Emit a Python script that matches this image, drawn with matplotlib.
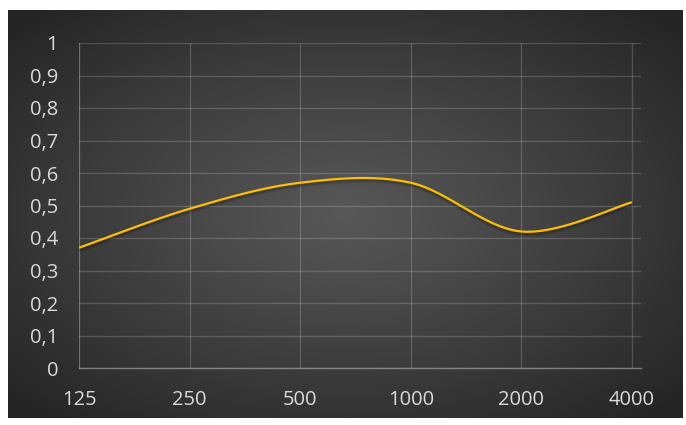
import numpy as np
import matplotlib
matplotlib.use("Agg")
import matplotlib.pyplot as plt

# Absorption-like curve per octave band
frequencies = ["125", "250", "500", "1000", "2000", "4000"]
values = [0.37, 0.49, 0.57, 0.57, 0.42, 0.51]
y_ticks = [0, 0.1, 0.2, 0.3, 0.4, 0.5, 0.6, 0.7, 0.8, 0.9, 1.0]
y_tick_labels = ["0", "0,1", "0,2", "0,3", "0,4", "0,5", "0,6", "0,7", "0,8", "0,9", "1"]

W, H = 686, 425
fig = plt.figure(figsize=(W / 100, H / 100), dpi=100)
fig.patch.set_facecolor("white")

# Dark chart area with a radial gradient (light centre, dark edges)
bg = fig.add_axes([8 / W, 1 - 418 / H, 675 / W, 408 / H])
bg.set_axis_off()
gx, gy = np.meshgrid(np.linspace(-1, 1, 400), np.linspace(-1, 1, 260))
r = np.sqrt(gx ** 2 + gy ** 2) / np.sqrt(2)
light = np.array([0x57, 0x57, 0x57]) / 255
dark = np.array([0x25, 0x25, 0x25]) / 255
t = np.clip(r / 0.95, 0, 1)[..., None] ** 1.1
img = light * (1 - t) + dark * t
bg.imshow(img, extent=[0, 1, 0, 1], aspect="auto", interpolation="bilinear")
bg.set_xlim(0, 1)
bg.set_ylim(0, 1)

ax = fig.add_axes([79 / W, (H - 368) / H, (641 - 79) / W, (368 - 43) / H])
ax.set_facecolor("none")


def smooth_curve(xs, ys, n=60):
    """Bezier smoothing through the points (Catmull-Rom style control points)."""
    xs = np.asarray(xs, float)
    ys = np.asarray(ys, float)
    pts = np.column_stack([xs, ys])
    out = []
    for i in range(len(pts) - 1):
        p0 = pts[i - 1] if i > 0 else pts[i]
        p1 = pts[i]
        p2 = pts[i + 1]
        p3 = pts[i + 2] if i + 2 < len(pts) else pts[i + 1]
        c1 = p1 + (p2 - p0) / 6
        c2 = p2 - (p3 - p1) / 6
        s = np.linspace(0, 1, n)[:, None]
        seg = ((1 - s) ** 3) * p1 + 3 * ((1 - s) ** 2) * s * c1 + 3 * (1 - s) * s ** 2 * c2 + s ** 3 * p2
        out.append(seg if i == 0 else seg[1:])
    out = np.vstack(out)
    return out[:, 0], out[:, 1]


x = np.arange(len(frequencies))
sx, sy = smooth_curve(x, values)

# soft shadow under the line
for off, a in [(0.009, 0.06), (0.006, 0.08), (0.004, 0.08)]:
    ax.plot(sx, sy - off, color="black", lw=3.0, alpha=a, solid_capstyle="round", zorder=2)
ax.plot(sx, sy, color="#FFC000", lw=1.6, solid_capstyle="butt", zorder=3)

ax.set_xlim(0, 5 + 9 / 110.6)
ax.set_ylim(0, 1)
ax.set_yticks(y_ticks)
ax.set_yticklabels(y_tick_labels)
ax.set_xticks(x)
ax.set_xticklabels(frequencies)

ax.grid(True, color="white", alpha=0.17, lw=1.0)
ax.set_axisbelow(True)
for side in ["top", "right"]:
    ax.spines[side].set_visible(False)
ax.spines["left"].set_color((1, 1, 1, 0.17))
ax.spines["bottom"].set_color((1, 1, 1, 0.38))
ax.spines["bottom"].set_linewidth(1.0)
ax.tick_params(axis="both", length=0, colors="#d9d9d9", labelsize=14.5)
ax.tick_params(axis="y", pad=15)
ax.tick_params(axis="x", pad=16)
for lab in ax.get_xticklabels() + ax.get_yticklabels():
    lab.set_fontfamily("Open Sans")
    lab.set_color("#d9d9d9")

fig.savefig("out.png", dpi=100, facecolor=fig.get_facecolor())
